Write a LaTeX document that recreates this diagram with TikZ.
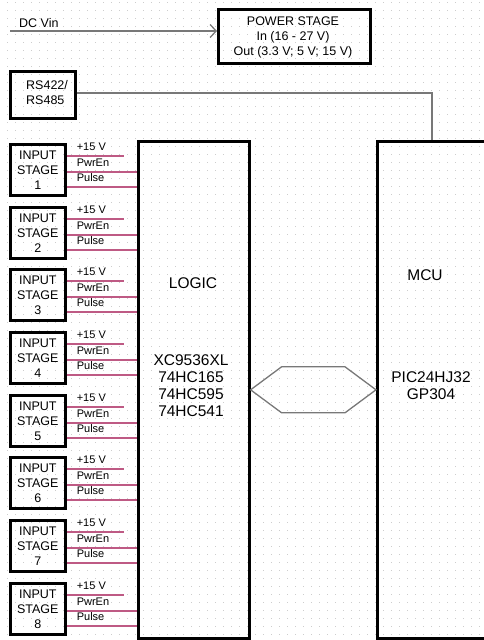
\documentclass[tikz,border=0pt]{standalone}
\usepackage{fontspec}
\setmainfont{Liberation Sans}
\usetikzlibrary{calc,arrows.meta}
\definecolor{sigpink}{RGB}{190,90,132}
\definecolor{conngray}{RGB}{120,120,120}
\definecolor{dotc}{RGB}{205,205,205}
\tikzset{
  box/.style={draw=black, line width=2.6pt, inner sep=0pt, anchor=north west},
  txt/.style={font=\fontsize{12.5}{15}\selectfont, align=center, inner sep=0pt},
  bigtxt/.style={font=\fontsize{15.5}{17}\selectfont, align=center, inner sep=0pt},
  lbl/.style={font=\fontsize{11}{13}\selectfont, inner sep=0pt, anchor=base west},
  sig/.style={draw=sigpink, line width=1.6pt},
  conn/.style={draw=conngray, line width=1.3pt},
}
\begin{document}
\begin{tikzpicture}[x=1pt,y=-1pt]
\useasboundingbox (0,0) rectangle (484,640);
\clip (0,0) rectangle (484,640);
% dotted grid
\foreach \x in {7,15,...,484} {
  \foreach \y in {2,10,...,640} {
    \fill[dotc] (\x,\y) rectangle ++(1.3,1.3);
  }
}
% power stage
\node[box, minimum width=152pt, minimum height=54pt] (power) at (217,8) {};
\node[txt] (powertxt) at (293,37.5) {POWER STAGE\\In (16 - 27 V)\\Out (3.3 V; 5 V; 15 V)};
\coordinate (dcin) at (10,31);
\draw[conn, -{Straight Barb[length=6pt,width=13pt]}] (dcin) -- (dcin -| power.west);
\node[txt, anchor=base west] (dcvin) at (19,27) {DC Vin};
% RS422
\node[box, minimum width=65pt, minimum height=47pt] (rs) at (9,70) {};
\node[txt, align=left, anchor=west] (rstxt) at (26,93) {RS422/\\RS485};
% LOGIC and MCU
\node[box, minimum width=111pt, minimum height=497pt] (logic) at (137,140) {};
\node[box, minimum width=140pt, minimum height=497pt] (mcu) at (376,140) {};
\node[bigtxt] (logictitle) at (193,283) {LOGIC};
\node[bigtxt] (logicparts) at (191,385.5) {XC9536XL\\74HC165\\74HC595\\74HC541};
\node[bigtxt] (mcutitle) at (425,275) {MCU};
\node[bigtxt] (mcuparts) at (431,386) {PIC24HJ32\\GP304};
% RS line
\coordinate (rsturn) at (432,93);
\draw[conn] (rs.east |- rsturn) -- (rsturn) -- (rsturn |- mcu.north);
% bus hexagon
\draw[conn] (logic.east) -- ++(31,-23) -- ($(mcu.west)+(-31,-23)$) -- (mcu.west)
  -- ($(mcu.west)+(-31,23)$) -- ($(logic.east)+(31,23)$) -- cycle;
% input stages
\foreach \i in {1,...,8} {
  \pgfmathsetmacro{\top}{round(143+(\i-1)*62.7)}
  \node[box, minimum width=55pt, minimum height=51pt] (in\i) at (9,\top) {};
  \node[txt] (in\i txt) at ($(in\i.center)+(0,0.5)$) {INPUT\\STAGE\\\i};
  \coordinate (v\i) at ($(in\i.north east)+(0,13)$);
  \coordinate (ve\i) at ($(v\i)+(57,0)$);
  \coordinate (p\i) at ($(in\i.north east)+(0,29)$);
  \coordinate (q\i) at ($(in\i.north east)+(0,44)$);
  \draw[sig] (v\i) -- (ve\i);
  \draw[sig] (p\i) -- (p\i -| logic.west);
  \draw[sig] (q\i) -- (q\i -| logic.west);
  \node[lbl] (lv\i) at ($(v\i)+(10,-6)$) {+15 V};
  \node[lbl] (lp\i) at ($(p\i)+(10,-6)$) {PwrEn};
  \node[lbl] (lq\i) at ($(q\i)+(10,-6)$) {Pulse};
}
\end{tikzpicture}
\end{document}
